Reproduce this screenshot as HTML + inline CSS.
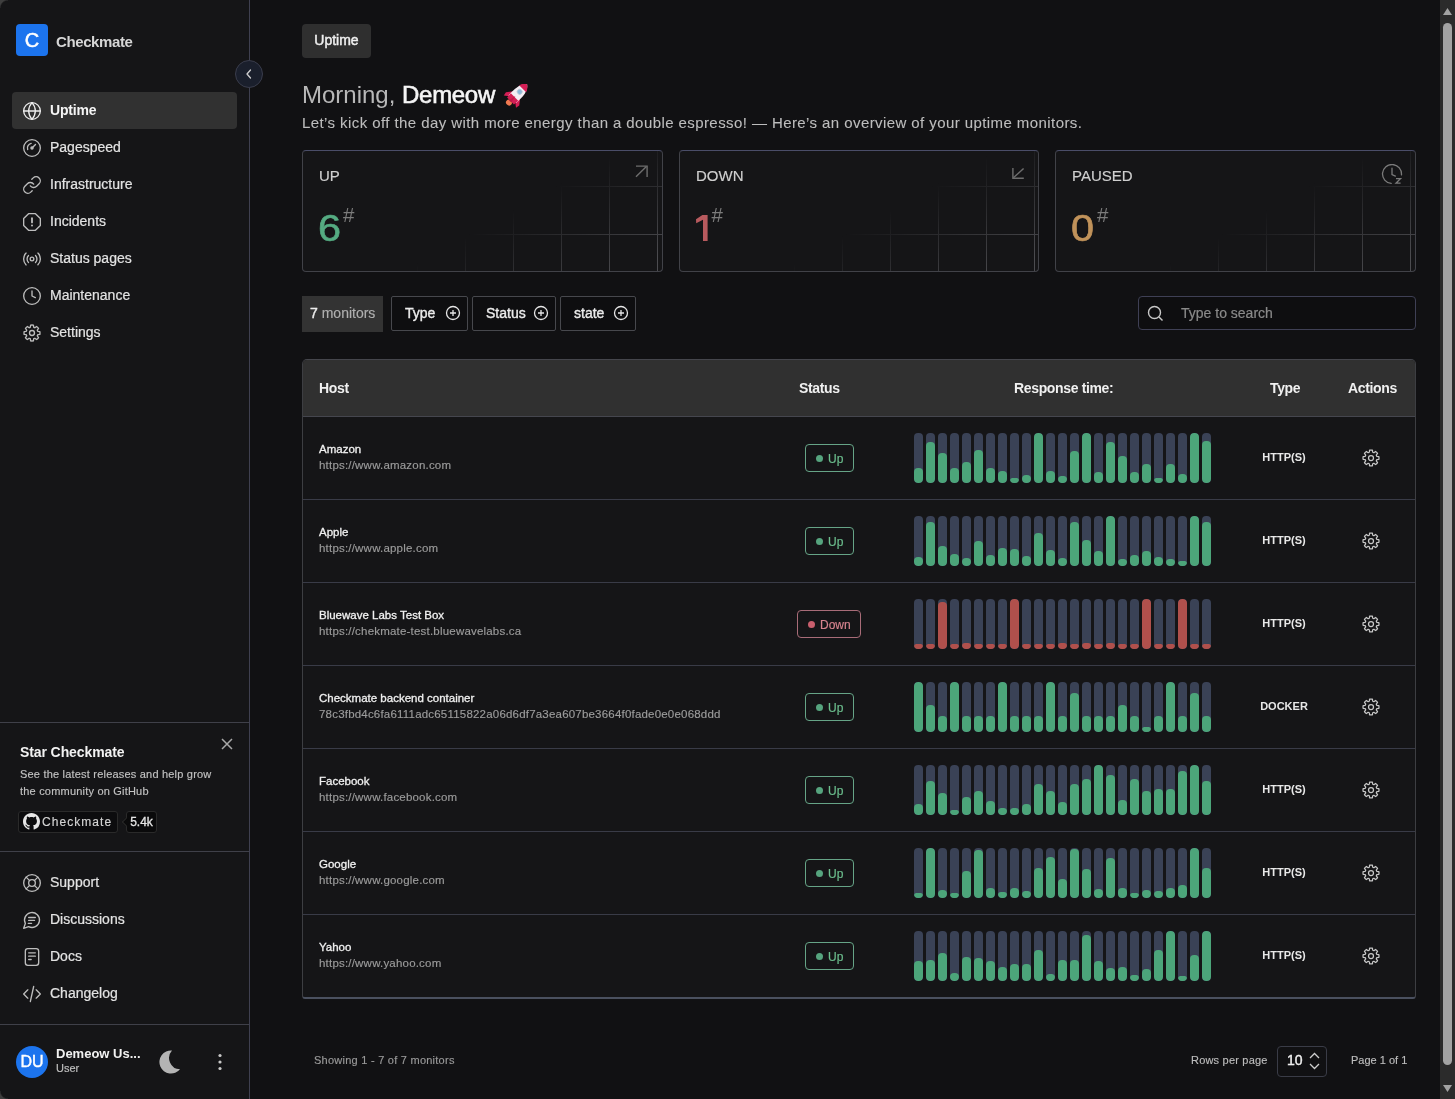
<!DOCTYPE html>
<html><head><meta charset="utf-8">
<style>
*{box-sizing:border-box;margin:0;padding:0}
html,body{width:1455px;height:1099px;overflow:hidden;background:#111113;font-family:"Liberation Sans",sans-serif;color:#e6e6e6}
.abs{position:absolute}
#side{position:absolute;left:0;top:0;width:250px;height:1099px;background:#151517;border-right:1px solid #3f4050}
.hr{position:absolute;left:0;width:249px;height:1px;background:#3f4049}
.nav{position:absolute;left:12px;width:225px;height:37px;border-radius:4px;font-size:14px;color:#e3e3e3}
.nav svg{position:absolute;left:10px;top:9px;width:20px;height:20px;fill:none;stroke:#bdbdbd;stroke-width:1.6;stroke-linecap:round;stroke-linejoin:round}
.nav span{position:absolute;left:38px;top:10px;line-height:17px;-webkit-text-stroke:0.2px currentColor}
.nav.on{background:#313131}
.nav.on svg{stroke:#ededed}
.nav.on span{font-weight:bold;color:#f5f5f5;-webkit-text-stroke:0;letter-spacing:-0.2px}
.card{position:absolute;top:150px;height:122px;border:1px solid #414248;border-top-color:#4a4d68;border-radius:4px;background:#151517;overflow:hidden}
.card .lbl{position:absolute;left:16px;top:16px;font-size:15px;color:#cfcfcf;line-height:18px;-webkit-text-stroke:0.15px currentColor}
.card .num{position:absolute;left:16px;top:57px;font-size:36px;line-height:42px;-webkit-text-stroke:0.6px currentColor;transform:scaleX(1.15);transform-origin:0 0}
.card .hash{position:absolute;top:52px;font-size:20.5px;line-height:24px;color:#7c7c7c}
.card .ico{position:absolute;right:12px;top:13px}
.grid{position:absolute;left:0;top:0;width:100%;height:100%;
background-image:linear-gradient(to right,#4c4c50 1px,transparent 1px),linear-gradient(to bottom,#4c4c50 1px,transparent 1px);
background-size:48px 48px;background-position:162px 35px;
-webkit-mask-image:linear-gradient(151deg,transparent 55%,#000 95%)}
.fbtn{position:absolute;top:296px;height:35px;border:1px solid #47484d;border-radius:2px;font-size:14px;color:#ececec;background:#0e0e10}
.fbtn span{position:absolute;left:13px;top:8px;-webkit-text-stroke:0.35px currentColor}
.fbtn svg{position:absolute;top:8px;width:16px;height:16px}
#tbl{position:absolute;left:302px;top:359px;width:1114px;height:640px;border:1px solid #3d3e42;border-top-color:#45464c;border-bottom:2px solid #4a505f;border-radius:5px 5px 3px 3px;overflow:hidden;background:#151517}
#thead{position:absolute;left:0;top:0;width:100%;height:57px;background:#303030;border-bottom:1px solid #45464e;font-size:14px;font-weight:bold;color:#f0f0f0}
.th{position:absolute;top:20px;line-height:16px;letter-spacing:-0.35px}
.row{position:absolute;left:0;width:100%;height:83px;border-bottom:1px solid #393b47}
.row .nm{position:absolute;left:16px;top:25px;font-size:11.5px;color:#f0f0f0;line-height:14px;-webkit-text-stroke:0.3px currentColor}
.row .url{position:absolute;left:16px;top:41px;font-size:11.5px;color:#9c9c9c;line-height:14px;letter-spacing:0.2px;-webkit-text-stroke:0.15px currentColor}
.badge{position:absolute;top:27px;height:28px;border:1px solid #66a487;border-radius:4px;font-size:12px;color:#6cbf8e;line-height:28px;padding-left:22px;-webkit-text-stroke:0.15px currentColor}
.badge:before{content:"";position:absolute;left:10px;top:10px;width:7px;height:7px;border-radius:50%;background:#56a47e}
.badge.dn{border-color:#a86c78;color:#d8848f}
.badge.dn:before{background:#c95f6d}
.bars{position:absolute;left:611px;top:16px;height:50px;width:300px}
.b{position:absolute;top:0;width:9px;height:50px;border-radius:4px;background:#3a4256;overflow:hidden}
.b i{position:absolute;left:0;bottom:0;width:9px;border-radius:4px;background:#4ca57a}
.dn .b i{background:#b0504c}
.typ{position:absolute;left:940px;width:82px;text-align:center;top:33px;font-size:11px;font-weight:bold;color:#e8e8e8;line-height:14px}
.gear{position:absolute;left:1058px;top:31px;width:20px;height:20px}
</style></head><body>
<div id="root" style="position:absolute;left:0;top:0;width:1455px;height:1099px;overflow:hidden;will-change:transform">
<div id="side">
<div class="abs" style="left:16px;top:24px;width:32px;height:32px;background:#1c74ee;border-radius:4px;color:#fff;font-size:20px;text-align:center;line-height:32px;-webkit-text-stroke:0.5px #fff">C</div>
<div class="abs" style="left:56px;top:33px;font-size:15px;font-weight:bold;color:#d6d6d6;line-height:17px;letter-spacing:-0.4px">Checkmate</div>
<div class="nav on" style="top:92px"><svg viewBox="0 0 24 24"><circle cx="12" cy="12" r="10"/><path d="M2 12h20"/><path d="M12 2a15.3 15.3 0 0 1 4 10 15.3 15.3 0 0 1-4 10 15.3 15.3 0 0 1-4-10 15.3 15.3 0 0 1 4-10z"/></svg><span>Uptime</span></div>
<div class="nav" style="top:129px"><svg viewBox="0 0 24 24"><circle cx="12" cy="12" r="10"/><path d="M6.8 13.8A5.6 5.6 0 0 1 11 6.5"/><path d="M12 12l4.2-4.2"/><circle cx="12" cy="12" r="1.3" fill="#bdbdbd"/></svg><span>Pagespeed</span></div>
<div class="nav" style="top:166px"><svg viewBox="0 0 24 24"><path d="M10 13a5 5 0 0 0 7.54.54l3-3a5 5 0 0 0-7.07-7.07l-1.72 1.71"/><path d="M14 11a5 5 0 0 0-7.54-.54l-3 3a5 5 0 0 0 7.07 7.07l1.71-1.71"/></svg><span>Infrastructure</span></div>
<div class="nav" style="top:203px"><svg viewBox="0 0 24 24"><path d="M7.86 2h8.28L22 7.86v8.28L16.14 22H7.86L2 16.14V7.86z"/><path d="M12 7.5v5" stroke-width="2.2"/><path d="M12 16.3h.01" stroke-width="2.4"/></svg><span>Incidents</span></div>
<div class="nav" style="top:240px"><svg viewBox="0 0 24 24"><path d="M4.9 19.1C1 15.2 1 8.8 4.9 4.9"/><path d="M7.8 16.2c-2.3-2.3-2.3-6.1 0-8.5"/><circle cx="12" cy="12" r="2.2"/><path d="M16.2 7.8c2.3 2.3 2.3 6.1 0 8.5"/><path d="M19.1 4.9C23 8.8 23 15.1 19.1 19"/></svg><span>Status pages</span></div>
<div class="nav" style="top:277px"><svg viewBox="0 0 24 24"><circle cx="12" cy="12" r="10"/><path d="M12 6v6l4 2"/></svg><span>Maintenance</span></div>
<div class="nav" style="top:314px"><svg viewBox="0 0 24 24"><path d="M10.33 2.55A9.6 9.6 0 0 1 13.67 2.55L14.04 5.10A7.2 7.2 0 0 1 15.44 5.67L17.51 4.14A9.6 9.6 0 0 1 19.86 6.49L18.33 8.56A7.2 7.2 0 0 1 18.90 9.96L21.45 10.33A9.6 9.6 0 0 1 21.45 13.67L18.90 14.04A7.2 7.2 0 0 1 18.33 15.44L19.86 17.51A9.6 9.6 0 0 1 17.51 19.86L15.44 18.33A7.2 7.2 0 0 1 14.04 18.90L13.67 21.45A9.6 9.6 0 0 1 10.33 21.45L9.96 18.90A7.2 7.2 0 0 1 8.56 18.33L6.49 19.86A9.6 9.6 0 0 1 4.14 17.51L5.67 15.44A7.2 7.2 0 0 1 5.10 14.04L2.55 13.67A9.6 9.6 0 0 1 2.55 10.33L5.10 9.96A7.2 7.2 0 0 1 5.67 8.56L4.14 6.49A9.6 9.6 0 0 1 6.49 4.14L8.56 5.67A7.2 7.2 0 0 1 9.96 5.10L10.33 2.55Z"/><circle cx="12" cy="12" r="3"/></svg><span>Settings</span></div>
<div class="hr" style="top:722px"></div>
<div class="abs" style="left:20px;top:744px;font-size:14px;font-weight:bold;color:#f2f2f2;line-height:17px;letter-spacing:-0.1px">Star Checkmate</div>
<svg class="abs" style="left:220px;top:737px;width:14px;height:14px" viewBox="0 0 14 14" fill="none" stroke="#a8a8a8" stroke-width="1.5"><path d="M2 2l10 10M12 2L2 12"/></svg>
<div class="abs" style="left:20px;top:766px;font-size:11px;color:#c2c2c2;line-height:17px;width:200px;letter-spacing:0.2px;-webkit-text-stroke:0.15px currentColor">See the latest releases and help grow the community on GitHub</div>
<div class="abs" style="left:18px;top:811px;width:100px;height:22px;border:1px solid #2a2a2a;border-radius:3px;background:#0c0c0e"></div>
<svg class="abs" style="left:23px;top:813px;width:17px;height:17px" viewBox="0 0 16 16"><path fill="#e6e6e6" d="M8 0C3.58 0 0 3.58 0 8c0 3.54 2.29 6.530 5.47 7.59.4.07.55-.17.55-.38 0-.19-.01-.82-.01-1.49-2.01.37-2.53-.49-2.69-.94-.09-.23-.48-.94-.82-1.13-.28-.15-.68-.52-.01-.53.63-.01 1.08.58 1.23.82.72 1.21 1.87.87 2.33.66.07-.52.28-.87.51-1.07-1.78-.2-3.64-.89-3.64-3.95 0-.87.31-1.59.82-2.15-.08-.2-.36-1.02.08-2.12 0 0 .67-.21 2.2.82.64-.18 1.32-.27 2-.27.68 0 1.36.09 2 .27 1.53-1.04 2.2-.82 2.2-.82.44 1.1.16 1.92.08 2.12.51.56.82 1.27.82 2.15 0 3.07-1.87 3.75-3.65 3.95.29.25.54.73.54 1.48 0 1.07-.01 1.93-.01 2.2 0 .21.15.46.55.38A8.013 8.013 0 0016 8c0-4.42-3.58-8-8-8z"/></svg>
<div class="abs" style="left:42px;top:814px;font-size:12px;color:#d4d4d4;line-height:15px;top:815px;letter-spacing:1.05px;-webkit-text-stroke:0.15px currentColor">Checkmate</div>
<div class="abs" style="left:126px;top:811px;width:31px;height:22px;border:1px solid #2a2a2a;border-radius:3px;background:#0a0a0b;font-size:12px;color:#e6e6e6;line-height:20px;text-align:center;-webkit-text-stroke:0.3px currentColor">5.4k</div>
<div class="abs" style="left:123px;top:819px;width:6px;height:6px;transform:rotate(45deg);background:#0a0a0b;border-left:1px solid #2a2a2a;border-bottom:1px solid #2a2a2a"></div>
<div class="hr" style="top:851px"></div>
<div class="nav" style="top:864px"><svg viewBox="0 0 24 24"><circle cx="12" cy="12" r="10"/><path d="m4.93 4.93 4.24 4.24"/><path d="m14.83 9.17 4.24-4.24"/><path d="m14.83 14.83 4.24 4.24"/><path d="m9.17 14.83-4.24 4.24"/><circle cx="12" cy="12" r="4"/></svg><span>Support</span></div>
<div class="nav" style="top:901px"><svg viewBox="0 0 24 24"><path d="M7.9 20A9 9 0 1 0 4 16.1L2 22Z"/><path d="M8 9h8"/><path d="M8 12.5h7"/><path d="M7.5 16h4"/></svg><span>Discussions</span></div>
<div class="nav" style="top:938px"><svg viewBox="0 0 24 24"><rect x="4" y="2" width="16" height="20" rx="3"/><path d="M8 7h8"/><path d="M8 11h8"/><path d="M8 15h3"/></svg><span>Docs</span></div>
<div class="nav" style="top:975px"><svg viewBox="0 0 24 24"><path d="M7 7l-5 5 5 5"/><path d="M17 7l5 5-5 5"/><path d="M14 3l-4 18"/></svg><span>Changelog</span></div>
<div class="hr" style="top:1024px"></div>
<div class="abs" style="left:16px;top:1046px;width:32px;height:32px;border-radius:50%;background:#1c74ee;color:#fff;font-size:16px;text-align:center;line-height:32px;-webkit-text-stroke:0.4px #fff">DU</div>
<div class="abs" style="left:56px;top:1046px;font-size:13px;font-weight:bold;color:#f2f2f2;line-height:15px">Demeow Us...</div>
<div class="abs" style="left:56px;top:1062px;font-size:11px;color:#bdbdbd;line-height:13px;-webkit-text-stroke:0.2px currentColor">User</div>
<svg class="abs" style="left:155px;top:1045px;width:30px;height:32px" viewBox="155 1045 30 32"><path fill="#b4b4b4" d="M172 1050.44A11.6 11.6 0 1 0 180.02 1069.29A11.3 11.3 0 0 1 172 1050.44Z"/></svg>
<svg class="abs" style="left:216px;top:1053px;width:8px;height:18px" viewBox="0 0 8 18" fill="#c8c8c8"><circle cx="4" cy="2.5" r="1.6"/><circle cx="4" cy="9" r="1.6"/><circle cx="4" cy="15.5" r="1.6"/></svg>
<div class="abs" style="left:0;top:0;width:8px;height:8px;background:radial-gradient(circle at 8px 8px,transparent 7px,#3e3e3e 8.5px)"></div>
<div class="abs" style="left:0;top:1091px;width:8px;height:8px;background:radial-gradient(circle at 8px 0,transparent 7px,#3e3e3e 8.5px)"></div>
</div>
<div class="abs" style="left:302px;top:24px;width:69px;height:34px;background:#2f2f2f;border-radius:4px;font-size:14px;color:#f0f0f0;line-height:33px;text-align:center;-webkit-text-stroke:0.45px currentColor">Uptime</div>
<div class="abs" style="left:302px;top:81px;font-size:24px;line-height:28px;color:#b8b8b8;white-space:nowrap">Morning, <span style="color:#f5f5f5;-webkit-text-stroke:0.6px #f5f5f5;letter-spacing:-0.3px">Demeow</span></div>
<svg class="abs" style="left:502px;top:79px;width:30.5px;height:30.5px" viewBox="0 0 24 24"><g transform="rotate(45 12 12)"><ellipse cx="12" cy="21.3" rx="2.4" ry="2.2" fill="#f07a50"/><path d="M8.2 12.5L4.6 17.2L5.2 20.2L8.6 17.6Z" fill="#d41e55"/><path d="M15.8 12.5L19.4 17.2L18.8 20.2L15.4 17.6Z" fill="#d41e55"/><path d="M12 1C16.2 4 16.8 10 16.2 17.5L7.8 17.5C7.2 10 7.8 4 12 1Z" fill="#f4eef4"/><path d="M12 1C14.3 2.6 15.4 4.4 15.9 6L8.1 6C8.6 4.4 9.7 2.6 12 1Z" fill="#d41e55"/><path d="M7.9 15L16.1 15L15.8 19.5L8.2 19.5Z" fill="#d41e55"/><path d="M12 14L13.3 20L10.7 20Z" fill="#c01848"/><circle cx="12" cy="9.3" r="2" fill="#8cb8d8" stroke="#b9c9d6" stroke-width=".6"/></g></svg>
<div class="abs" style="left:302px;top:114px;font-size:15px;line-height:18px;color:#bdbdbd;white-space:nowrap;letter-spacing:0.42px;-webkit-text-stroke:0.1px currentColor">Let’s kick off the day with more energy than a double espresso! — Here’s an overview of your uptime monitors.</div>
<div class="card" style="left:302px;width:361px"><div class="grid"></div><div class="lbl">UP</div><div class="num" style="color:#55ab82;left:15px">6</div><div class="hash" style="left:40px">#</div><svg class="ico" width="16" height="16" viewBox="0 0 16 16" fill="none" stroke="#6e6e6e" stroke-width="1.4"><path d="M2 2.1h11.1v10.8"/><path d="M2 12.8L12.4 2.6"/></svg></div>
<div class="card" style="left:679px;width:360px"><div class="grid"></div><div class="lbl">DOWN</div><div class="hash" style="left:31.5px">#</div><svg class="ico" width="16" height="16" viewBox="0 0 16 16" fill="none" stroke="#6e6e6e" stroke-width="1.4"><path d="M2.9 4v10.3h10.9"/><path d="M3.4 13.8L13.6 4.4"/></svg></div>
<div class="card" style="left:1055px;width:361px"><div class="grid"></div><div class="lbl">PAUSED</div><div class="num" style="color:#c0925a;left:15px">0</div><div class="hash" style="left:41px">#</div><svg class="ico" width="22" height="22" viewBox="0 0 22 22" fill="none" stroke="#7a7a7a" stroke-width="1.3" stroke-linecap="round"><path d="M20.46 10.83A9.5 9.5 0 1 0 10.17 19.46"/><path d="M11 4.2v6.4l3.4 1.5"/><path d="M15 14.6h4.6l-4.6 4.6h4.6" stroke-linecap="butt" stroke-linejoin="miter"/></svg></div>
<svg class="abs" style="left:0;top:0;width:1455px;height:300px" viewBox="0 0 1455 300"><path fill="#b85a5e" d="M707.6 215L707.6 241L703 241L703 219.8L696.2 223.2L696 219.2L702.4 215Z"/></svg>
<div class="abs" style="left:302px;top:296px;width:81px;height:36px;background:#333333;border-radius:0;font-size:14px;line-height:34px;color:#b0b0b0;padding-left:8px;-webkit-text-stroke:0.15px currentColor"><span style="color:#ececec;-webkit-text-stroke:0.4px currentColor">7</span> monitors</div>
<div class="fbtn" style="left:391px;width:77px"><span>Type</span><svg style="left:53px" viewBox="0 0 16 16" fill="none" stroke="#e6e6e6" stroke-width="1.3"><circle cx="8" cy="8" r="6.5"/><path d="M8 5v6M5 8h6"/></svg></div>
<div class="fbtn" style="left:472px;width:84px"><span>Status</span><svg style="left:60px" viewBox="0 0 16 16" fill="none" stroke="#e6e6e6" stroke-width="1.3"><circle cx="8" cy="8" r="6.5"/><path d="M8 5v6M5 8h6"/></svg></div>
<div class="fbtn" style="left:560px;width:76px"><span>state</span><svg style="left:52px" viewBox="0 0 16 16" fill="none" stroke="#e6e6e6" stroke-width="1.3"><circle cx="8" cy="8" r="6.5"/><path d="M8 5v6M5 8h6"/></svg></div>
<div class="abs" style="left:1138px;top:296px;width:278px;height:34px;border:1px solid #3f4055;border-radius:4px;background:#0e0e10"></div>
<svg class="abs" style="left:1147px;top:305px;width:17px;height:17px" viewBox="0 0 17 17" fill="none" stroke="#c8c8c8" stroke-width="1.4"><circle cx="7.5" cy="7.5" r="6"/><path d="M12 12l3.5 3.5"/></svg>
<div class="abs" style="left:1181px;top:305px;font-size:14px;line-height:17px;color:#8a8a8a;-webkit-text-stroke:0.2px currentColor">Type to search</div>
<div id="tbl"><div id="thead"><div class="th" style="left:16px">Host</div><div class="th" style="left:496px">Status</div><div class="th" style="left:711px">Response time:</div><div class="th" style="left:967px">Type</div><div class="th" style="left:1045px">Actions</div></div>
<div class="row" style="top:57px"><div class="nm">Amazon</div><div class="url">https://www.amazon.com</div><div class="badge" style="left:502px;width:49px">Up</div><div class="bars"><div class="b" style="left:0px"><i style="height:15px"></i></div><div class="b" style="left:12px"><i style="height:41px"></i></div><div class="b" style="left:24px"><i style="height:30px"></i></div><div class="b" style="left:36px"><i style="height:15px"></i></div><div class="b" style="left:48px"><i style="height:21px"></i></div><div class="b" style="left:60px"><i style="height:33px"></i></div><div class="b" style="left:72px"><i style="height:15px"></i></div><div class="b" style="left:84px"><i style="height:12px"></i></div><div class="b" style="left:96px"><i style="height:5px"></i></div><div class="b" style="left:108px"><i style="height:8px"></i></div><div class="b" style="left:120px"><i style="height:50px"></i></div><div class="b" style="left:132px"><i style="height:12px"></i></div><div class="b" style="left:144px"><i style="height:7px"></i></div><div class="b" style="left:156px"><i style="height:32px"></i></div><div class="b" style="left:168px"><i style="height:50px"></i></div><div class="b" style="left:180px"><i style="height:11px"></i></div><div class="b" style="left:192px"><i style="height:41px"></i></div><div class="b" style="left:204px"><i style="height:27px"></i></div><div class="b" style="left:216px"><i style="height:11px"></i></div><div class="b" style="left:228px"><i style="height:19px"></i></div><div class="b" style="left:240px"><i style="height:5px"></i></div><div class="b" style="left:252px"><i style="height:19px"></i></div><div class="b" style="left:264px"><i style="height:9px"></i></div><div class="b" style="left:276px"><i style="height:50px"></i></div><div class="b" style="left:288px"><i style="height:42px"></i></div></div><div class="typ">HTTP(S)</div><svg class="gear" viewBox="0 0 24 24" fill="none" stroke="#c8c8c8" stroke-width="1.5" stroke-linejoin="round"><path d="M10.33 2.55A9.6 9.6 0 0 1 13.67 2.55L14.04 5.10A7.2 7.2 0 0 1 15.44 5.67L17.51 4.14A9.6 9.6 0 0 1 19.86 6.49L18.33 8.56A7.2 7.2 0 0 1 18.90 9.96L21.45 10.33A9.6 9.6 0 0 1 21.45 13.67L18.90 14.04A7.2 7.2 0 0 1 18.33 15.44L19.86 17.51A9.6 9.6 0 0 1 17.51 19.86L15.44 18.33A7.2 7.2 0 0 1 14.04 18.90L13.67 21.45A9.6 9.6 0 0 1 10.33 21.45L9.96 18.90A7.2 7.2 0 0 1 8.56 18.33L6.49 19.86A9.6 9.6 0 0 1 4.14 17.51L5.67 15.44A7.2 7.2 0 0 1 5.10 14.04L2.55 13.67A9.6 9.6 0 0 1 2.55 10.33L5.10 9.96A7.2 7.2 0 0 1 5.67 8.56L4.14 6.49A9.6 9.6 0 0 1 6.49 4.14L8.56 5.67A7.2 7.2 0 0 1 9.96 5.10L10.33 2.55Z"/><circle cx="12" cy="12" r="3"/></svg></div>
<div class="row" style="top:140px"><div class="nm">Apple</div><div class="url">https://www.apple.com</div><div class="badge" style="left:502px;width:49px">Up</div><div class="bars"><div class="b" style="left:0px"><i style="height:9px"></i></div><div class="b" style="left:12px"><i style="height:44px"></i></div><div class="b" style="left:24px"><i style="height:20px"></i></div><div class="b" style="left:36px"><i style="height:12px"></i></div><div class="b" style="left:48px"><i style="height:8px"></i></div><div class="b" style="left:60px"><i style="height:25px"></i></div><div class="b" style="left:72px"><i style="height:11px"></i></div><div class="b" style="left:84px"><i style="height:18px"></i></div><div class="b" style="left:96px"><i style="height:17px"></i></div><div class="b" style="left:108px"><i style="height:10px"></i></div><div class="b" style="left:120px"><i style="height:33px"></i></div><div class="b" style="left:132px"><i style="height:16px"></i></div><div class="b" style="left:144px"><i style="height:8px"></i></div><div class="b" style="left:156px"><i style="height:44px"></i></div><div class="b" style="left:168px"><i style="height:26px"></i></div><div class="b" style="left:180px"><i style="height:15px"></i></div><div class="b" style="left:192px"><i style="height:50px"></i></div><div class="b" style="left:204px"><i style="height:7px"></i></div><div class="b" style="left:216px"><i style="height:11px"></i></div><div class="b" style="left:228px"><i style="height:15px"></i></div><div class="b" style="left:240px"><i style="height:9px"></i></div><div class="b" style="left:252px"><i style="height:7px"></i></div><div class="b" style="left:264px"><i style="height:5px"></i></div><div class="b" style="left:276px"><i style="height:50px"></i></div><div class="b" style="left:288px"><i style="height:44px"></i></div></div><div class="typ">HTTP(S)</div><svg class="gear" viewBox="0 0 24 24" fill="none" stroke="#c8c8c8" stroke-width="1.5" stroke-linejoin="round"><path d="M10.33 2.55A9.6 9.6 0 0 1 13.67 2.55L14.04 5.10A7.2 7.2 0 0 1 15.44 5.67L17.51 4.14A9.6 9.6 0 0 1 19.86 6.49L18.33 8.56A7.2 7.2 0 0 1 18.90 9.96L21.45 10.33A9.6 9.6 0 0 1 21.45 13.67L18.90 14.04A7.2 7.2 0 0 1 18.33 15.44L19.86 17.51A9.6 9.6 0 0 1 17.51 19.86L15.44 18.33A7.2 7.2 0 0 1 14.04 18.90L13.67 21.45A9.6 9.6 0 0 1 10.33 21.45L9.96 18.90A7.2 7.2 0 0 1 8.56 18.33L6.49 19.86A9.6 9.6 0 0 1 4.14 17.51L5.67 15.44A7.2 7.2 0 0 1 5.10 14.04L2.55 13.67A9.6 9.6 0 0 1 2.55 10.33L5.10 9.96A7.2 7.2 0 0 1 5.67 8.56L4.14 6.49A9.6 9.6 0 0 1 6.49 4.14L8.56 5.67A7.2 7.2 0 0 1 9.96 5.10L10.33 2.55Z"/><circle cx="12" cy="12" r="3"/></svg></div>
<div class="row dn" style="top:223px"><div class="nm">Bluewave Labs Test Box</div><div class="url">https://chekmate-test.bluewavelabs.ca</div><div class="badge dn" style="left:494px;width:64px">Down</div><div class="bars"><div class="b" style="left:0px"><i style="height:5px"></i></div><div class="b" style="left:12px"><i style="height:5px"></i></div><div class="b" style="left:24px"><i style="height:47px"></i></div><div class="b" style="left:36px"><i style="height:5px"></i></div><div class="b" style="left:48px"><i style="height:6px"></i></div><div class="b" style="left:60px"><i style="height:5px"></i></div><div class="b" style="left:72px"><i style="height:5px"></i></div><div class="b" style="left:84px"><i style="height:5px"></i></div><div class="b" style="left:96px"><i style="height:50px"></i></div><div class="b" style="left:108px"><i style="height:5px"></i></div><div class="b" style="left:120px"><i style="height:5px"></i></div><div class="b" style="left:132px"><i style="height:5px"></i></div><div class="b" style="left:144px"><i style="height:6px"></i></div><div class="b" style="left:156px"><i style="height:5px"></i></div><div class="b" style="left:168px"><i style="height:6px"></i></div><div class="b" style="left:180px"><i style="height:5px"></i></div><div class="b" style="left:192px"><i style="height:6px"></i></div><div class="b" style="left:204px"><i style="height:5px"></i></div><div class="b" style="left:216px"><i style="height:5px"></i></div><div class="b" style="left:228px"><i style="height:50px"></i></div><div class="b" style="left:240px"><i style="height:5px"></i></div><div class="b" style="left:252px"><i style="height:5px"></i></div><div class="b" style="left:264px"><i style="height:50px"></i></div><div class="b" style="left:276px"><i style="height:5px"></i></div><div class="b" style="left:288px"><i style="height:5px"></i></div></div><div class="typ">HTTP(S)</div><svg class="gear" viewBox="0 0 24 24" fill="none" stroke="#c8c8c8" stroke-width="1.5" stroke-linejoin="round"><path d="M10.33 2.55A9.6 9.6 0 0 1 13.67 2.55L14.04 5.10A7.2 7.2 0 0 1 15.44 5.67L17.51 4.14A9.6 9.6 0 0 1 19.86 6.49L18.33 8.56A7.2 7.2 0 0 1 18.90 9.96L21.45 10.33A9.6 9.6 0 0 1 21.45 13.67L18.90 14.04A7.2 7.2 0 0 1 18.33 15.44L19.86 17.51A9.6 9.6 0 0 1 17.51 19.86L15.44 18.33A7.2 7.2 0 0 1 14.04 18.90L13.67 21.45A9.6 9.6 0 0 1 10.33 21.45L9.96 18.90A7.2 7.2 0 0 1 8.56 18.33L6.49 19.86A9.6 9.6 0 0 1 4.14 17.51L5.67 15.44A7.2 7.2 0 0 1 5.10 14.04L2.55 13.67A9.6 9.6 0 0 1 2.55 10.33L5.10 9.96A7.2 7.2 0 0 1 5.67 8.56L4.14 6.49A9.6 9.6 0 0 1 6.49 4.14L8.56 5.67A7.2 7.2 0 0 1 9.96 5.10L10.33 2.55Z"/><circle cx="12" cy="12" r="3"/></svg></div>
<div class="row" style="top:306px"><div class="nm">Checkmate backend container</div><div class="url">78c3fbd4c6fa6111adc65115822a06d6df7a3ea607be3664f0fade0e0e068ddd</div><div class="badge" style="left:502px;width:49px">Up</div><div class="bars"><div class="b" style="left:0px"><i style="height:50px"></i></div><div class="b" style="left:12px"><i style="height:27px"></i></div><div class="b" style="left:24px"><i style="height:16px"></i></div><div class="b" style="left:36px"><i style="height:50px"></i></div><div class="b" style="left:48px"><i style="height:16px"></i></div><div class="b" style="left:60px"><i style="height:16px"></i></div><div class="b" style="left:72px"><i style="height:16px"></i></div><div class="b" style="left:84px"><i style="height:50px"></i></div><div class="b" style="left:96px"><i style="height:16px"></i></div><div class="b" style="left:108px"><i style="height:16px"></i></div><div class="b" style="left:120px"><i style="height:16px"></i></div><div class="b" style="left:132px"><i style="height:50px"></i></div><div class="b" style="left:144px"><i style="height:16px"></i></div><div class="b" style="left:156px"><i style="height:39px"></i></div><div class="b" style="left:168px"><i style="height:16px"></i></div><div class="b" style="left:180px"><i style="height:16px"></i></div><div class="b" style="left:192px"><i style="height:16px"></i></div><div class="b" style="left:204px"><i style="height:27px"></i></div><div class="b" style="left:216px"><i style="height:16px"></i></div><div class="b" style="left:228px"><i style="height:5px"></i></div><div class="b" style="left:240px"><i style="height:16px"></i></div><div class="b" style="left:252px"><i style="height:50px"></i></div><div class="b" style="left:264px"><i style="height:16px"></i></div><div class="b" style="left:276px"><i style="height:39px"></i></div><div class="b" style="left:288px"><i style="height:16px"></i></div></div><div class="typ">DOCKER</div><svg class="gear" viewBox="0 0 24 24" fill="none" stroke="#c8c8c8" stroke-width="1.5" stroke-linejoin="round"><path d="M10.33 2.55A9.6 9.6 0 0 1 13.67 2.55L14.04 5.10A7.2 7.2 0 0 1 15.44 5.67L17.51 4.14A9.6 9.6 0 0 1 19.86 6.49L18.33 8.56A7.2 7.2 0 0 1 18.90 9.96L21.45 10.33A9.6 9.6 0 0 1 21.45 13.67L18.90 14.04A7.2 7.2 0 0 1 18.33 15.44L19.86 17.51A9.6 9.6 0 0 1 17.51 19.86L15.44 18.33A7.2 7.2 0 0 1 14.04 18.90L13.67 21.45A9.6 9.6 0 0 1 10.33 21.45L9.96 18.90A7.2 7.2 0 0 1 8.56 18.33L6.49 19.86A9.6 9.6 0 0 1 4.14 17.51L5.67 15.44A7.2 7.2 0 0 1 5.10 14.04L2.55 13.67A9.6 9.6 0 0 1 2.55 10.33L5.10 9.96A7.2 7.2 0 0 1 5.67 8.56L4.14 6.49A9.6 9.6 0 0 1 6.49 4.14L8.56 5.67A7.2 7.2 0 0 1 9.96 5.10L10.33 2.55Z"/><circle cx="12" cy="12" r="3"/></svg></div>
<div class="row" style="top:389px"><div class="nm">Facebook</div><div class="url">https://www.facebook.com</div><div class="badge" style="left:502px;width:49px">Up</div><div class="bars"><div class="b" style="left:0px"><i style="height:11px"></i></div><div class="b" style="left:12px"><i style="height:34px"></i></div><div class="b" style="left:24px"><i style="height:22px"></i></div><div class="b" style="left:36px"><i style="height:5px"></i></div><div class="b" style="left:48px"><i style="height:18px"></i></div><div class="b" style="left:60px"><i style="height:24px"></i></div><div class="b" style="left:72px"><i style="height:14px"></i></div><div class="b" style="left:84px"><i style="height:7px"></i></div><div class="b" style="left:96px"><i style="height:7px"></i></div><div class="b" style="left:108px"><i style="height:11px"></i></div><div class="b" style="left:120px"><i style="height:31px"></i></div><div class="b" style="left:132px"><i style="height:24px"></i></div><div class="b" style="left:144px"><i style="height:13px"></i></div><div class="b" style="left:156px"><i style="height:31px"></i></div><div class="b" style="left:168px"><i style="height:36px"></i></div><div class="b" style="left:180px"><i style="height:50px"></i></div><div class="b" style="left:192px"><i style="height:40px"></i></div><div class="b" style="left:204px"><i style="height:15px"></i></div><div class="b" style="left:216px"><i style="height:36px"></i></div><div class="b" style="left:228px"><i style="height:24px"></i></div><div class="b" style="left:240px"><i style="height:26px"></i></div><div class="b" style="left:252px"><i style="height:26px"></i></div><div class="b" style="left:264px"><i style="height:44px"></i></div><div class="b" style="left:276px"><i style="height:50px"></i></div><div class="b" style="left:288px"><i style="height:34px"></i></div></div><div class="typ">HTTP(S)</div><svg class="gear" viewBox="0 0 24 24" fill="none" stroke="#c8c8c8" stroke-width="1.5" stroke-linejoin="round"><path d="M10.33 2.55A9.6 9.6 0 0 1 13.67 2.55L14.04 5.10A7.2 7.2 0 0 1 15.44 5.67L17.51 4.14A9.6 9.6 0 0 1 19.86 6.49L18.33 8.56A7.2 7.2 0 0 1 18.90 9.96L21.45 10.33A9.6 9.6 0 0 1 21.45 13.67L18.90 14.04A7.2 7.2 0 0 1 18.33 15.44L19.86 17.51A9.6 9.6 0 0 1 17.51 19.86L15.44 18.33A7.2 7.2 0 0 1 14.04 18.90L13.67 21.45A9.6 9.6 0 0 1 10.33 21.45L9.96 18.90A7.2 7.2 0 0 1 8.56 18.33L6.49 19.86A9.6 9.6 0 0 1 4.14 17.51L5.67 15.44A7.2 7.2 0 0 1 5.10 14.04L2.55 13.67A9.6 9.6 0 0 1 2.55 10.33L5.10 9.96A7.2 7.2 0 0 1 5.67 8.56L4.14 6.49A9.6 9.6 0 0 1 6.49 4.14L8.56 5.67A7.2 7.2 0 0 1 9.96 5.10L10.33 2.55Z"/><circle cx="12" cy="12" r="3"/></svg></div>
<div class="row" style="top:472px"><div class="nm">Google</div><div class="url">https://www.google.com</div><div class="badge" style="left:502px;width:49px">Up</div><div class="bars"><div class="b" style="left:0px"><i style="height:5px"></i></div><div class="b" style="left:12px"><i style="height:50px"></i></div><div class="b" style="left:24px"><i style="height:8px"></i></div><div class="b" style="left:36px"><i style="height:5px"></i></div><div class="b" style="left:48px"><i style="height:27px"></i></div><div class="b" style="left:60px"><i style="height:48px"></i></div><div class="b" style="left:72px"><i style="height:10px"></i></div><div class="b" style="left:84px"><i style="height:6px"></i></div><div class="b" style="left:96px"><i style="height:10px"></i></div><div class="b" style="left:108px"><i style="height:7px"></i></div><div class="b" style="left:120px"><i style="height:30px"></i></div><div class="b" style="left:132px"><i style="height:41px"></i></div><div class="b" style="left:144px"><i style="height:19px"></i></div><div class="b" style="left:156px"><i style="height:49px"></i></div><div class="b" style="left:168px"><i style="height:29px"></i></div><div class="b" style="left:180px"><i style="height:9px"></i></div><div class="b" style="left:192px"><i style="height:40px"></i></div><div class="b" style="left:204px"><i style="height:10px"></i></div><div class="b" style="left:216px"><i style="height:5px"></i></div><div class="b" style="left:228px"><i style="height:8px"></i></div><div class="b" style="left:240px"><i style="height:7px"></i></div><div class="b" style="left:252px"><i style="height:10px"></i></div><div class="b" style="left:264px"><i style="height:13px"></i></div><div class="b" style="left:276px"><i style="height:50px"></i></div><div class="b" style="left:288px"><i style="height:30px"></i></div></div><div class="typ">HTTP(S)</div><svg class="gear" viewBox="0 0 24 24" fill="none" stroke="#c8c8c8" stroke-width="1.5" stroke-linejoin="round"><path d="M10.33 2.55A9.6 9.6 0 0 1 13.67 2.55L14.04 5.10A7.2 7.2 0 0 1 15.44 5.67L17.51 4.14A9.6 9.6 0 0 1 19.86 6.49L18.33 8.56A7.2 7.2 0 0 1 18.90 9.96L21.45 10.33A9.6 9.6 0 0 1 21.45 13.67L18.90 14.04A7.2 7.2 0 0 1 18.33 15.44L19.86 17.51A9.6 9.6 0 0 1 17.51 19.86L15.44 18.33A7.2 7.2 0 0 1 14.04 18.90L13.67 21.45A9.6 9.6 0 0 1 10.33 21.45L9.96 18.90A7.2 7.2 0 0 1 8.56 18.33L6.49 19.86A9.6 9.6 0 0 1 4.14 17.51L5.67 15.44A7.2 7.2 0 0 1 5.10 14.04L2.55 13.67A9.6 9.6 0 0 1 2.55 10.33L5.10 9.96A7.2 7.2 0 0 1 5.67 8.56L4.14 6.49A9.6 9.6 0 0 1 6.49 4.14L8.56 5.67A7.2 7.2 0 0 1 9.96 5.10L10.33 2.55Z"/><circle cx="12" cy="12" r="3"/></svg></div>
<div class="row" style="top:555px"><div class="nm">Yahoo</div><div class="url">https://www.yahoo.com</div><div class="badge" style="left:502px;width:49px">Up</div><div class="bars"><div class="b" style="left:0px"><i style="height:20px"></i></div><div class="b" style="left:12px"><i style="height:21px"></i></div><div class="b" style="left:24px"><i style="height:28px"></i></div><div class="b" style="left:36px"><i style="height:8px"></i></div><div class="b" style="left:48px"><i style="height:24px"></i></div><div class="b" style="left:60px"><i style="height:23px"></i></div><div class="b" style="left:72px"><i style="height:20px"></i></div><div class="b" style="left:84px"><i style="height:14px"></i></div><div class="b" style="left:96px"><i style="height:17px"></i></div><div class="b" style="left:108px"><i style="height:17px"></i></div><div class="b" style="left:120px"><i style="height:31px"></i></div><div class="b" style="left:132px"><i style="height:7px"></i></div><div class="b" style="left:144px"><i style="height:21px"></i></div><div class="b" style="left:156px"><i style="height:21px"></i></div><div class="b" style="left:168px"><i style="height:46px"></i></div><div class="b" style="left:180px"><i style="height:20px"></i></div><div class="b" style="left:192px"><i style="height:13px"></i></div><div class="b" style="left:204px"><i style="height:14px"></i></div><div class="b" style="left:216px"><i style="height:6px"></i></div><div class="b" style="left:228px"><i style="height:12px"></i></div><div class="b" style="left:240px"><i style="height:31px"></i></div><div class="b" style="left:252px"><i style="height:50px"></i></div><div class="b" style="left:264px"><i style="height:5px"></i></div><div class="b" style="left:276px"><i style="height:26px"></i></div><div class="b" style="left:288px"><i style="height:50px"></i></div></div><div class="typ">HTTP(S)</div><svg class="gear" viewBox="0 0 24 24" fill="none" stroke="#c8c8c8" stroke-width="1.5" stroke-linejoin="round"><path d="M10.33 2.55A9.6 9.6 0 0 1 13.67 2.55L14.04 5.10A7.2 7.2 0 0 1 15.44 5.67L17.51 4.14A9.6 9.6 0 0 1 19.86 6.49L18.33 8.56A7.2 7.2 0 0 1 18.90 9.96L21.45 10.33A9.6 9.6 0 0 1 21.45 13.67L18.90 14.04A7.2 7.2 0 0 1 18.33 15.44L19.86 17.51A9.6 9.6 0 0 1 17.51 19.86L15.44 18.33A7.2 7.2 0 0 1 14.04 18.90L13.67 21.45A9.6 9.6 0 0 1 10.33 21.45L9.96 18.90A7.2 7.2 0 0 1 8.56 18.33L6.49 19.86A9.6 9.6 0 0 1 4.14 17.51L5.67 15.44A7.2 7.2 0 0 1 5.10 14.04L2.55 13.67A9.6 9.6 0 0 1 2.55 10.33L5.10 9.96A7.2 7.2 0 0 1 5.67 8.56L4.14 6.49A9.6 9.6 0 0 1 6.49 4.14L8.56 5.67A7.2 7.2 0 0 1 9.96 5.10L10.33 2.55Z"/><circle cx="12" cy="12" r="3"/></svg></div>
</div>
<div class="abs" style="left:314px;top:1053px;font-size:11px;line-height:14px;color:#9a9a9a;letter-spacing:0.25px;-webkit-text-stroke:0.15px currentColor">Showing 1 - 7 of 7 monitors</div>
<div class="abs" style="left:1191px;top:1053px;font-size:11px;line-height:14px;color:#bdbdbd;letter-spacing:0.2px;-webkit-text-stroke:0.15px currentColor">Rows per page</div>
<div class="abs" style="left:1277px;top:1046px;width:50px;height:31px;border:1px solid #3a3c47;border-radius:4px"></div>
<div class="abs" style="left:1287px;top:1052px;font-size:14px;line-height:17px;color:#f0f0f0;-webkit-text-stroke:0.4px currentColor">10</div>
<svg class="abs" style="left:1308px;top:1051px;width:13px;height:20px" viewBox="0 0 13 20" fill="none" stroke="#cfcfcf" stroke-width="1.3"><path d="M2 7l4.5-4.5L11 7M2 13l4.5 4.5L11 13"/></svg>
<div class="abs" style="left:1351px;top:1053px;font-size:11px;line-height:14px;color:#bdbdbd;-webkit-text-stroke:0.15px currentColor">Page 1 of 1</div>
<div class="abs" style="left:1440px;top:0;width:15px;height:1099px;background:#2b2b2b"></div>
<div class="abs" style="left:1443px;top:23px;width:9px;height:1042px;border-radius:5px;background:#a3a3a3"></div>
<svg class="abs" style="left:1442px;top:7px;width:11px;height:9px" viewBox="0 0 11 9"><path d="M5.5 1L10 8H1z" fill="#a3a3a3"/></svg>
<svg class="abs" style="left:1442px;top:1084px;width:11px;height:9px" viewBox="0 0 11 9"><path d="M5.5 8L10 1H1z" fill="#a3a3a3"/></svg>
<div class="abs" style="left:235px;top:60px;width:28px;height:28px;border-radius:50%;background:#1a1f2c;border:1px solid #3a3d4c"></div>
<svg class="abs" style="left:242px;top:67px;width:14px;height:14px" viewBox="0 0 14 14" fill="none" stroke="#d0d0d0" stroke-width="1.3" stroke-linecap="round" stroke-linejoin="round"><path d="M8.5 3L5 7l3.5 4"/></svg>
</div>
</body></html>
